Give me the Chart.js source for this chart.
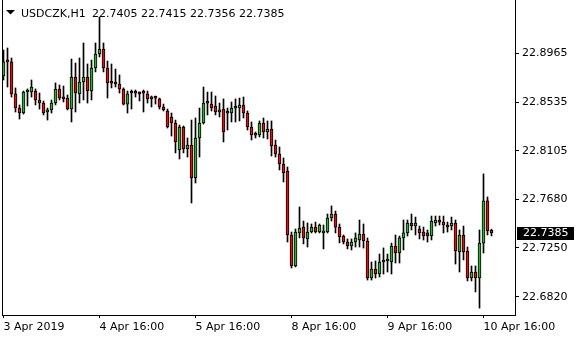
<!DOCTYPE html>
<html>
<head>
<meta charset="utf-8">
<script src="https://cdn.jsdelivr.net/npm/chart.js@4.4.1/dist/chart.umd.min.js"></script>
<style>
  html, body { margin: 0; padding: 0; background: #fff; }
  #wrap { width: 580px; height: 340px; }
</style>
</head>
<body>
<div id="wrap"><canvas id="chart_USDCZK" width="580" height="340"></canvas></div>
<script>
// USDCZK H1, one entry per hourly bar (3 Apr 16:00 .. 10 Apr 18:00)
const opens = [
  22.8765, 22.8897, 22.8889, 22.8607, 22.8483, 22.8439, 22.8624, 22.8624, 22.8633, 22.8554,
  22.8527, 22.8448, 22.8466, 22.8527, 22.8651, 22.8571, 22.8571, 22.8474, 22.8756, 22.8607,
  22.8712, 22.8756, 22.8633, 22.8836, 22.8959, 22.9003, 22.8836, 22.8704, 22.8704, 22.8695,
  22.8651, 22.8518, 22.8633, 22.8615, 22.8615, 22.8615, 22.8607, 22.8571, 22.8571, 22.8563,
  22.8492, 22.8457, 22.8404, 22.8351, 22.8113, 22.8316, 22.8122, 22.8157, 22.7866, 22.8219,
  22.8351, 22.8527, 22.8518, 22.8501, 22.8448, 22.8474, 22.8439, 22.8439, 22.8483, 22.8483,
  22.8510, 22.8439, 22.8316, 22.8245, 22.8245, 22.8351, 22.8272, 22.8298, 22.8157, 22.8078,
  22.7990, 22.7928, 22.7364, 22.7091, 22.7382, 22.7434, 22.7329, 22.7390, 22.7434, 22.7390,
  22.7382, 22.7390, 22.7514, 22.7549, 22.7434, 22.7355, 22.7302, 22.7267, 22.7302, 22.7320,
  22.7373, 22.7311, 22.6985, 22.7064, 22.7020, 22.7126, 22.7135, 22.7126, 22.7267, 22.7205,
  22.7338, 22.7382, 22.7470, 22.7443, 22.7417, 22.7390, 22.7382, 22.7355, 22.7470, 22.7487,
  22.7478, 22.7452, 22.7443, 22.7470, 22.7214, 22.7364, 22.7223, 22.6985, 22.7038, 22.6985,
  22.7293, 22.7664, 22.7405
];
const highs = [
  22.8994, 22.9012, 22.8924, 22.8660, 22.8510, 22.8633, 22.8651, 22.8730, 22.8651, 22.8615,
  22.8545, 22.8483, 22.8554, 22.8704, 22.8686, 22.8677, 22.8598, 22.8915, 22.8880, 22.8924,
  22.9056, 22.8871, 22.8906, 22.9056, 22.9285, 22.9056, 22.8897, 22.8871, 22.8827, 22.8774,
  22.8660, 22.8633, 22.8642, 22.8642, 22.8624, 22.8642, 22.8633, 22.8589, 22.8589, 22.8571,
  22.8518, 22.8474, 22.8439, 22.8377, 22.8333, 22.8325, 22.8219, 22.8377, 22.8395, 22.8483,
  22.8668, 22.8624, 22.8624, 22.8589, 22.8527, 22.8563, 22.8483, 22.8536, 22.8563, 22.8571,
  22.8580, 22.8457, 22.8360, 22.8272, 22.8369, 22.8395, 22.8369, 22.8369, 22.8201, 22.8140,
  22.8043, 22.7963, 22.7390, 22.7417, 22.7611, 22.7487, 22.7470, 22.7461, 22.7478, 22.7461,
  22.7452, 22.7549, 22.7620, 22.7575, 22.7461, 22.7364, 22.7329, 22.7329, 22.7382, 22.7496,
  22.7461, 22.7338, 22.7126, 22.7135, 22.7196, 22.7250, 22.7196, 22.7293, 22.7364, 22.7355,
  22.7496, 22.7496, 22.7549, 22.7522, 22.7443, 22.7434, 22.7408, 22.7531, 22.7531, 22.7531,
  22.7531, 22.7478, 22.7522, 22.7496, 22.7408, 22.7443, 22.7258, 22.7091, 22.7091, 22.7408,
  22.7902, 22.7699, 22.7415
];
const lows = [
  22.8730, 22.8668, 22.8580, 22.8448, 22.8386, 22.8430, 22.8501, 22.8580, 22.8510, 22.8474,
  22.8422, 22.8377, 22.8439, 22.8510, 22.8554, 22.8536, 22.8466, 22.8360, 22.8448, 22.8527,
  22.8554, 22.8527, 22.8554, 22.8801, 22.8933, 22.8801, 22.8571, 22.8660, 22.8668, 22.8615,
  22.8510, 22.8439, 22.8474, 22.8580, 22.8545, 22.8448, 22.8527, 22.8492, 22.8518, 22.8474,
  22.8457, 22.8307, 22.8236, 22.8087, 22.8034, 22.8087, 22.8051, 22.7646, 22.7822, 22.8051,
  22.8342, 22.8422, 22.8457, 22.8422, 22.8404, 22.8184, 22.8289, 22.8360, 22.8360, 22.8369,
  22.8395, 22.8289, 22.8201, 22.8219, 22.8228, 22.8219, 22.8210, 22.8060, 22.8051, 22.7937,
  22.7831, 22.7302, 22.7073, 22.7082, 22.7338, 22.7285, 22.7258, 22.7382, 22.7382, 22.7382,
  22.7241, 22.7382, 22.7487, 22.7382, 22.7294, 22.7285, 22.7241, 22.7232, 22.7258, 22.7258,
  22.7249, 22.6967, 22.6967, 22.6985, 22.6994, 22.7020, 22.7038, 22.7020, 22.7117, 22.7117,
  22.7232, 22.7355, 22.7408, 22.7364, 22.7329, 22.7320, 22.7302, 22.7320, 22.7443, 22.7452,
  22.7382, 22.7390, 22.7408, 22.7108, 22.7038, 22.7144, 22.6959, 22.6959, 22.6862, 22.6720,
  22.7205, 22.7364, 22.7356
];
const closes = [
  22.8889, 22.8889, 22.8607, 22.8483, 22.8439, 22.8624, 22.8633, 22.8668, 22.8554, 22.8527,
  22.8439, 22.8466, 22.8527, 22.8651, 22.8571, 22.8563, 22.8474, 22.8756, 22.8615, 22.8712,
  22.8756, 22.8633, 22.8836, 22.8959, 22.9003, 22.8836, 22.8704, 22.8701, 22.8695, 22.8651,
  22.8518, 22.8607, 22.8615, 22.8613, 22.8607, 22.8613, 22.8563, 22.8563, 22.8569, 22.8492,
  22.8466, 22.8316, 22.8351, 22.8184, 22.8316, 22.8122, 22.8157, 22.7866, 22.8219, 22.8351,
  22.8527, 22.8525, 22.8483, 22.8448, 22.8466, 22.8272, 22.8437, 22.8483, 22.8481, 22.8510,
  22.8439, 22.8316, 22.8245, 22.8243, 22.8351, 22.8272, 22.8298, 22.8148, 22.8078, 22.7990,
  22.7910, 22.7364, 22.7091, 22.7390, 22.7426, 22.7338, 22.7390, 22.7434, 22.7390, 22.7452,
  22.7399, 22.7514, 22.7549, 22.7434, 22.7346, 22.7302, 22.7267, 22.7302, 22.7338, 22.7373,
  22.7311, 22.6985, 22.7064, 22.7020, 22.7126, 22.7144, 22.7144, 22.7267, 22.7205, 22.7338,
  22.7382, 22.7470, 22.7443, 22.7470, 22.7382, 22.7355, 22.7355, 22.7487, 22.7496, 22.7478,
  22.7452, 22.7434, 22.7470, 22.7223, 22.7364, 22.7214, 22.6985, 22.7038, 22.6985, 22.7293,
  22.7664, 22.7399, 22.7385
];

const yTicks = [22.8965, 22.8535, 22.8105, 22.7680, 22.7250, 22.6820];
const xTickBars = [0, 24, 48, 72, 96, 120];
const xTickLabels = ['3 Apr 2019', '4 Apr 16:00', '5 Apr 16:00', '8 Apr 16:00', '9 Apr 16:00', '10 Apr 16:00'];
const symbol = 'USDCZK,H1';

const bullColor = 'rgb(48, 176, 48)';
const bearColor = 'rgb(220, 18, 18)';
const font = { family: 'DejaVu Sans', size: 11 };

const wicks = opens.map((o, i) => ({ x: i, y: [lows[i], highs[i]] }));
const bodies = opens.map((o, i) => ({ x: i, y: [o, closes[i]] }));
const bodyColors = opens.map((o, i) => closes[i] >= o ? bullColor : bearColor);

const last = opens.length - 1;

// frame, header line and the current price box
const mtDecor = {
  id: 'mtDecor',
  afterDraw(chart) {
    const c = chart.ctx;
    const area = chart.chartArea;
    c.save();
    c.strokeStyle = '#000';
    c.lineWidth = 1;
    c.beginPath();
    c.moveTo(area.left + 0.5, area.top);
    c.lineTo(area.left + 0.5, area.bottom + 1);
    c.stroke();

    c.fillStyle = '#000';
    c.beginPath();
    c.moveTo(6, 10);
    c.lineTo(15, 10);
    c.lineTo(10.5, 14.5);
    c.closePath();
    c.fill();

    c.font = '11px "DejaVu Sans"';
    c.textBaseline = 'alphabetic';
    c.textAlign = 'left';
    c.fillStyle = '#000';
    c.fillText(symbol, 21, 17);
    const ohlc = [opens[last], highs[last], lows[last], closes[last]].map(v => v.toFixed(4)).join(' ');
    c.fillText(ohlc, 92, 17);

    const py = chart.scales.y.getPixelForValue(closes[last]);
    c.fillStyle = '#000';
    c.fillRect(area.right + 2, Math.round(py) - 6, 57, 13);
    c.fillStyle = '#fff';
    c.textBaseline = 'middle';
    c.fillText(closes[last].toFixed(4), area.right + 8, Math.round(py) + 0.5);
    c.restore();
  }
};

new Chart(document.getElementById('chart_USDCZK'), {
  type: 'bar',
  data: {
    datasets: [
      {
        label: 'wick',
        data: wicks,
        backgroundColor: '#000',
        borderWidth: 0,
        barThickness: 1,
        grouped: false,
        order: 2
      },
      {
        label: 'body',
        data: bodies,
        backgroundColor: bodyColors,
        borderColor: '#000',
        borderWidth: 1,
        borderSkipped: false,
        barThickness: 3,
        minBarLength: 2,
        grouped: false,
        order: 1
      }
    ]
  },
  options: {
    responsive: false,
    animation: false,
    layout: { padding: { left: 2, top: 0, right: 0, bottom: 0 } },
    scales: {
      x: {
        type: 'linear',
        offset: false,
        min: -0.375,
        max: 127.875,
        afterBuildTicks: s => { s.ticks = xTickBars.map(v => ({ value: v })); },
        afterFit: s => { s.height = 25; s.paddingLeft = 0; s.paddingRight = 0; },
        grid: { drawOnChartArea: false, tickLength: 3, color: '#000', offset: false },
        border: { display: true, color: '#000', width: 1 },
        ticks: {
          align: 'start',
          autoSkip: false,
          maxRotation: 0,
          padding: 3,
          color: '#000',
          font: font,
          callback: (v, i) => xTickLabels[i]
        }
      },
      y: {
        position: 'right',
        min: 22.66589,
        max: 22.9435,
        afterBuildTicks: s => { s.ticks = yTicks.map(v => ({ value: v })); },
        afterFit: s => { s.width = 65; s.paddingTop = 0; s.paddingBottom = 0; },
        grid: { drawOnChartArea: false, tickLength: 4, color: '#000' },
        border: { display: true, color: '#000', width: 1 },
        ticks: {
          padding: 3,
          color: '#000',
          font: font,
          callback: v => Number(v).toFixed(4)
        }
      }
    },
    plugins: {
      legend: { display: false },
      tooltip: { enabled: false }
    }
  },
  plugins: [mtDecor]
});
</script>
</body>
</html>
